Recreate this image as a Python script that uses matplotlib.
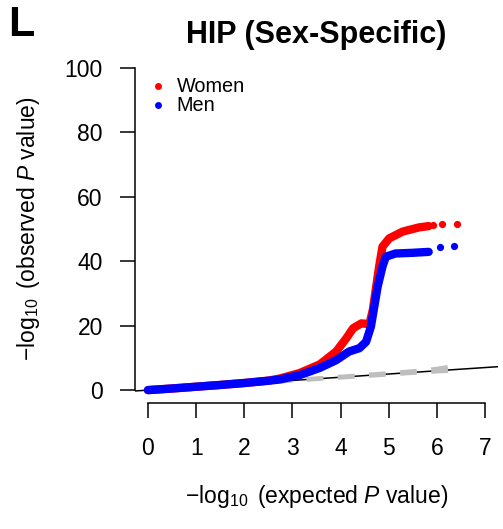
import matplotlib
matplotlib.use("Agg")
import matplotlib.pyplot as plt
from matplotlib.lines import Line2D

plt.rcParams['font.family'] = ['Liberation Sans', 'DejaVu Sans']
plt.rcParams['mathtext.fontset'] = 'custom'
plt.rcParams['mathtext.rm'] = 'Liberation Sans'
plt.rcParams['mathtext.it'] = 'Liberation Sans:italic'
plt.rcParams['mathtext.bf'] = 'Liberation Sans:bold'

# dense part of the QQ curves (expected vs observed -log10 P)
women_x = [0.0, 0.5, 1.0, 1.5, 2.0, 2.5, 2.74, 3.15, 3.57, 3.91, 4.12, 4.26, 4.43,
           4.60, 4.67, 4.74, 4.80, 4.87, 5.01, 5.29, 5.63, 5.83]
women_y = [0.0, 0.5, 1.05, 1.6, 2.2, 2.95, 3.6, 5.3, 8.0, 12.0, 16.1, 19.2, 20.7,
           20.5, 24.9, 32.1, 38.3, 44.5, 47.1, 49.2, 50.5, 50.9]
men_x = [0.0, 0.5, 1.0, 1.5, 2.0, 2.5, 2.74, 3.15, 3.57, 3.91, 4.18, 4.39, 4.53,
         4.63, 4.70, 4.77, 4.87, 4.94, 5.14, 5.48, 5.83]
men_y = [0.0, 0.5, 1.05, 1.6, 2.2, 2.9, 3.3, 4.65, 6.9, 9.3, 12.0, 13.0, 15.0,
         19.7, 25.9, 32.1, 38.3, 41.4, 42.4, 42.6, 42.9]
# isolated top hits
women_tail_x = [5.91, 6.10, 6.41]
women_tail_y = [51.2, 51.5, 51.6]
men_tail_x = [6.07, 6.36]
men_tail_y = [44.3, 44.7]

# 95% band around the null line
ci_x = [2.0, 3.0, 4.0, 5.0, 5.5, 6.0, 6.2, 6.4]
ci_upper = [2.05, 3.1, 4.15, 5.25, 5.85, 6.6, 7.1, 7.8]
ci_lower = [1.95, 2.95, 3.9, 4.85, 5.35, 5.8, 5.95, 6.1]

fig = plt.figure(figsize=(5.03, 5.29), dpi=100)
ax = fig.add_axes([134.5 / 503, 1 - 403 / 529, 364 / 503, 348 / 529])

ax.axline((0, 0), slope=1, color='black', lw=1.1, zorder=1)
dash = dict(color='#BEBEBE', lw=3.0, ls=(0, (4, 3.5)), zorder=1)
ax.plot(ci_x, ci_upper, **dash)
ax.plot(ci_x, ci_lower, **dash)

band = 6.0
ms = 5.2
ax.plot(women_x, women_y, color='red', lw=band, solid_capstyle='round',
        solid_joinstyle='round', zorder=2)
ax.plot(women_tail_x, women_tail_y, 'o', color='red', ms=ms, mew=0, zorder=2)
ax.plot(men_x, men_y, color='blue', lw=band, solid_capstyle='round',
        solid_joinstyle='round', zorder=3)
ax.plot(men_tail_x, men_tail_y, 'o', color='blue', ms=ms, mew=0, zorder=3)

ax.set_xlim(-0.28, 7.28)
ax.set_ylim(-4, 104)
ax.set_xticks(range(0, 8))
ax.set_yticks(range(0, 101, 20))

for s in ['top', 'right']:
    ax.spines[s].set_visible(False)
ax.spines['bottom'].set_bounds(0, 7)
ax.spines['left'].set_bounds(0, 100)
for s in ['bottom', 'left']:
    ax.spines[s].set_linewidth(1.1)
ax.tick_params(axis='both', direction='out', length=10.8, width=1.1,
               labelsize=16.5)
ax.tick_params(axis='x', pad=13.5)
ax.tick_params(axis='y', pad=12)

ax.set_xlabel(r'$-\log_{10}$ (expected $P$ value)', fontsize=16.5)
ax.xaxis.set_label_coords(0.5, -(497 - 403) / 348)
ax.xaxis.label.set_va('center')
ax.set_ylabel(r'$-\log_{10}$ (observed $P$ value)', fontsize=16.5)
ax.yaxis.set_label_coords(-(134.5 - 28) / 364, 0.5)
ax.yaxis.label.set_va('center')

ax.set_title('HIP (Sex-Specific)', fontsize=22, fontweight='bold', pad=8.6)
fig.text(8 / 503, 1 - 36 / 529, 'L', fontsize=31, fontweight='bold',
         ha='left', va='baseline')

handles = [Line2D([], [], marker='o', ls='', color='red', ms=5, mew=0),
           Line2D([], [], marker='o', ls='', color='blue', ms=5, mew=0)]
ax.legend(handles, ['Women', 'Men'], loc='upper left', frameon=False,
          bbox_to_anchor=(0.009, 0.964), fontsize=14.3, handlelength=1.0,
          handletextpad=0.45, labelspacing=0.0, borderpad=0)

fig.savefig('out.png', dpi=100)
